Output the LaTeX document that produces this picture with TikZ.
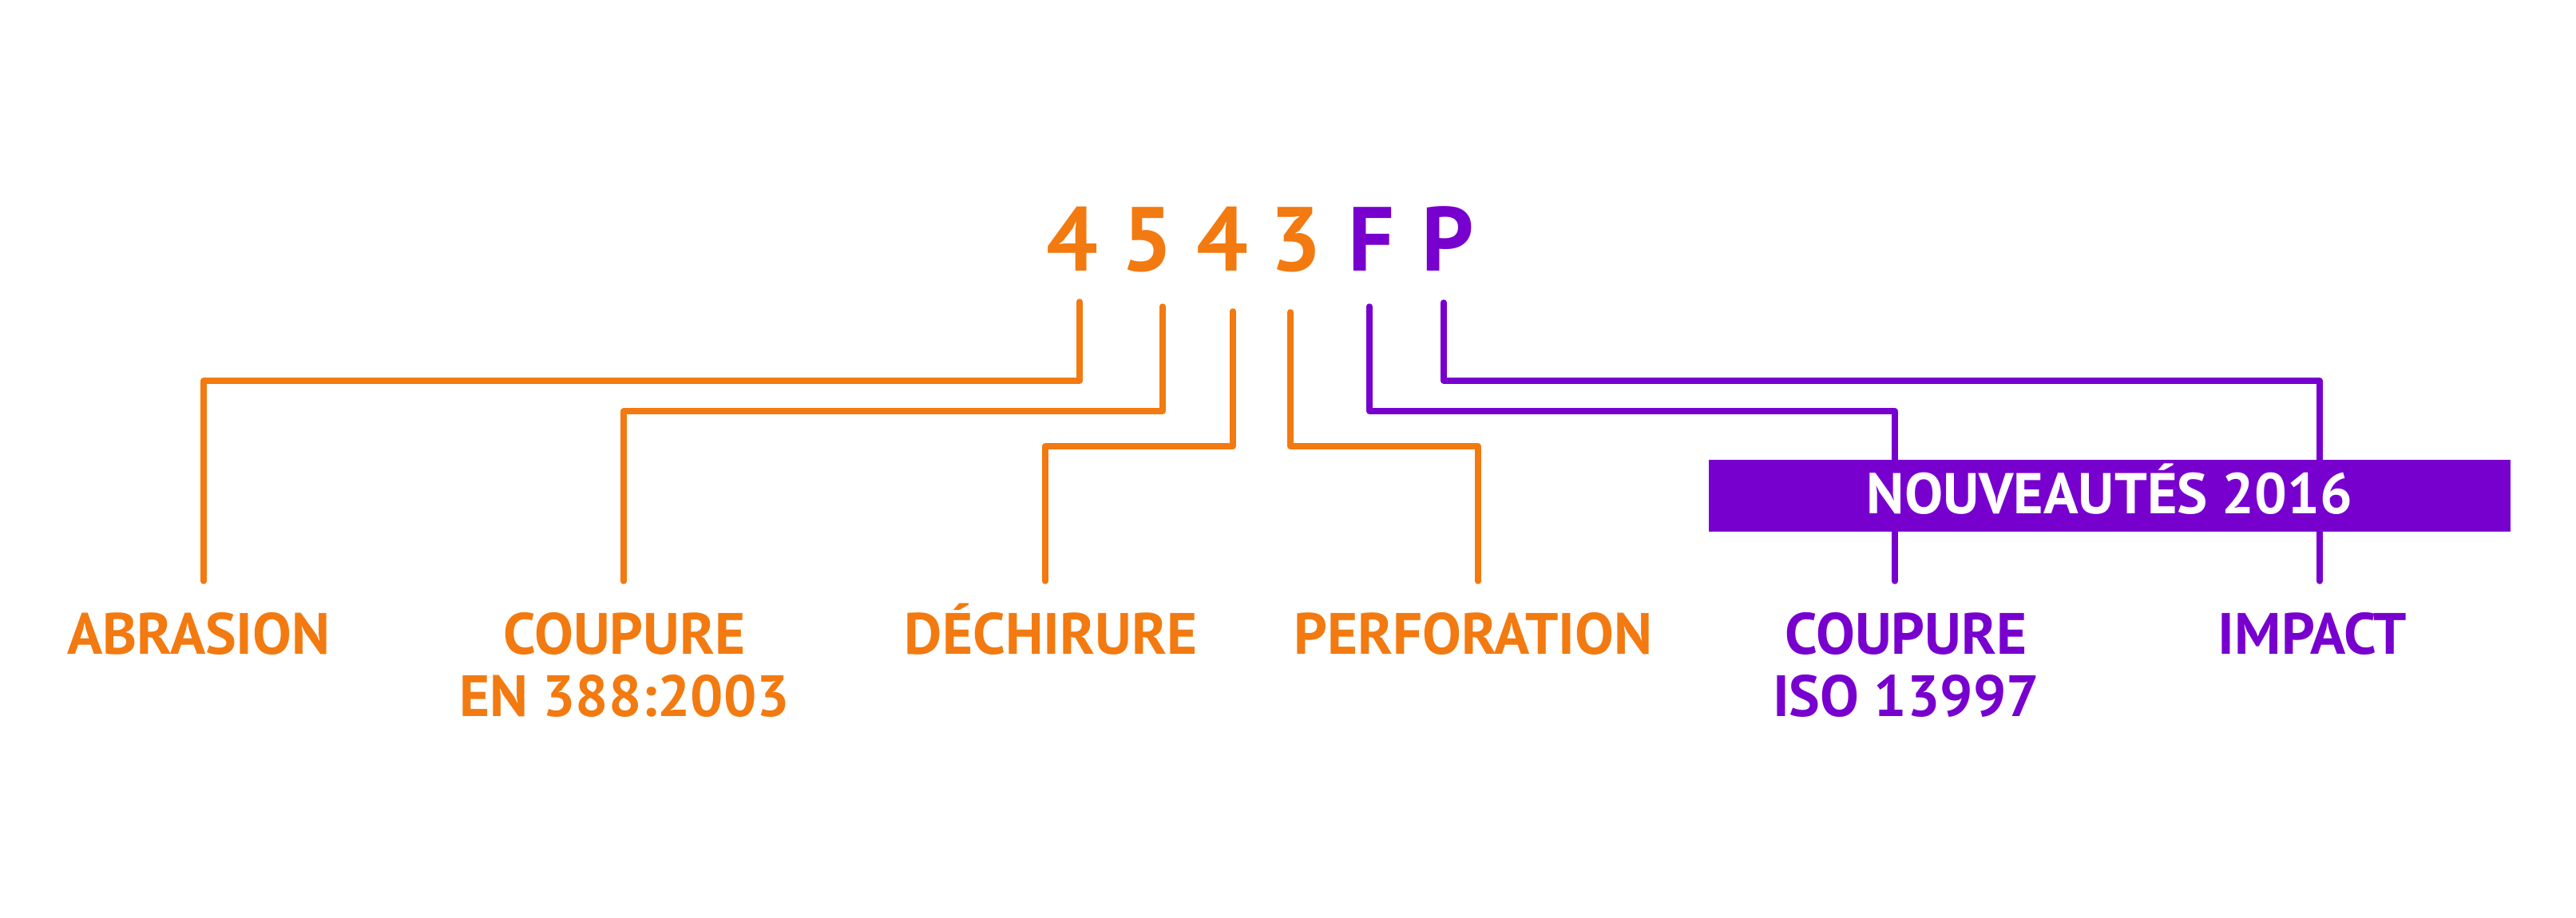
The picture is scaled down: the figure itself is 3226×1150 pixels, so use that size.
\documentclass[tikz,border=0pt]{standalone}
\usepackage{fontspec}
\setmainfont{PT Sans}
\definecolor{orangeA}{HTML}{F27A10}
\definecolor{violetA}{HTML}{7800CF}
\tikzset{
 leg/.style={line width=7.5pt,line cap=round,line join=round},
 lab/.style={inner sep=0pt,align=center,anchor=base,font=\bfseries\fontsize{73}{78}\selectfont},
 digit/.style={inner sep=0pt,anchor=base,font=\bfseries\fontsize{114}{120}\selectfont},
}
\begin{document}
\begin{tikzpicture}[x=1pt,y=-1pt]
 \useasboundingbox (0,0) rectangle (3226,1150);
 % the code
 \foreach \c/\x/\col [count=\i] in {4/1343/orangeA,5/1437/orangeA,4/1531/orangeA,3/1623/orangeA,F/1717/violetA,P/1813/violetA}
  \node[digit,text=\col] (d\i) at (\x,340) {\c};
 % legs from the code to the labels
 \foreach \xt/\yt/\yh/\xb/\col [count=\i] in {1352/378/477/255/orangeA,1456/384/515/781/orangeA,1544/390/559/1309/orangeA,1616/391/559/1851/orangeA,1715/384/515/2373/violetA,1808/379/477/2905/violetA}{
  \coordinate (t\i) at (\xt,\yt);
  \coordinate (b\i) at (\xb,728);
  \draw[leg,\col] (t\i) -- (\xt,\yh) -| (b\i);
 }
 \node[fill=violetA,text=white,inner sep=0pt,minimum width=1004pt,minimum height=90pt,text height=50pt,text depth=6pt,font=\bfseries\fontsize{72}{78}\selectfont] (news) at (2642,621) {NOUVEAUTÉS 2016};
 \node[lab,text=orangeA] (abr) at (249,819) {ABRASION};
 \node[lab,text=orangeA] (cut) at (782,897) {COUPURE\\EN 388:2003};
 \node[lab,text=orangeA] (tear) at (1316,819) {DÉCHIRURE};
 \node[lab,text=orangeA] (perf) at (1845,819) {PERFORATION};
 \node[lab,text=violetA] (iso) at (2387,897) {COUPURE\\ISO 13997};
 \node[lab,text=violetA] (imp) at (2896,819) {IMPACT};
\end{tikzpicture}
\end{document}
